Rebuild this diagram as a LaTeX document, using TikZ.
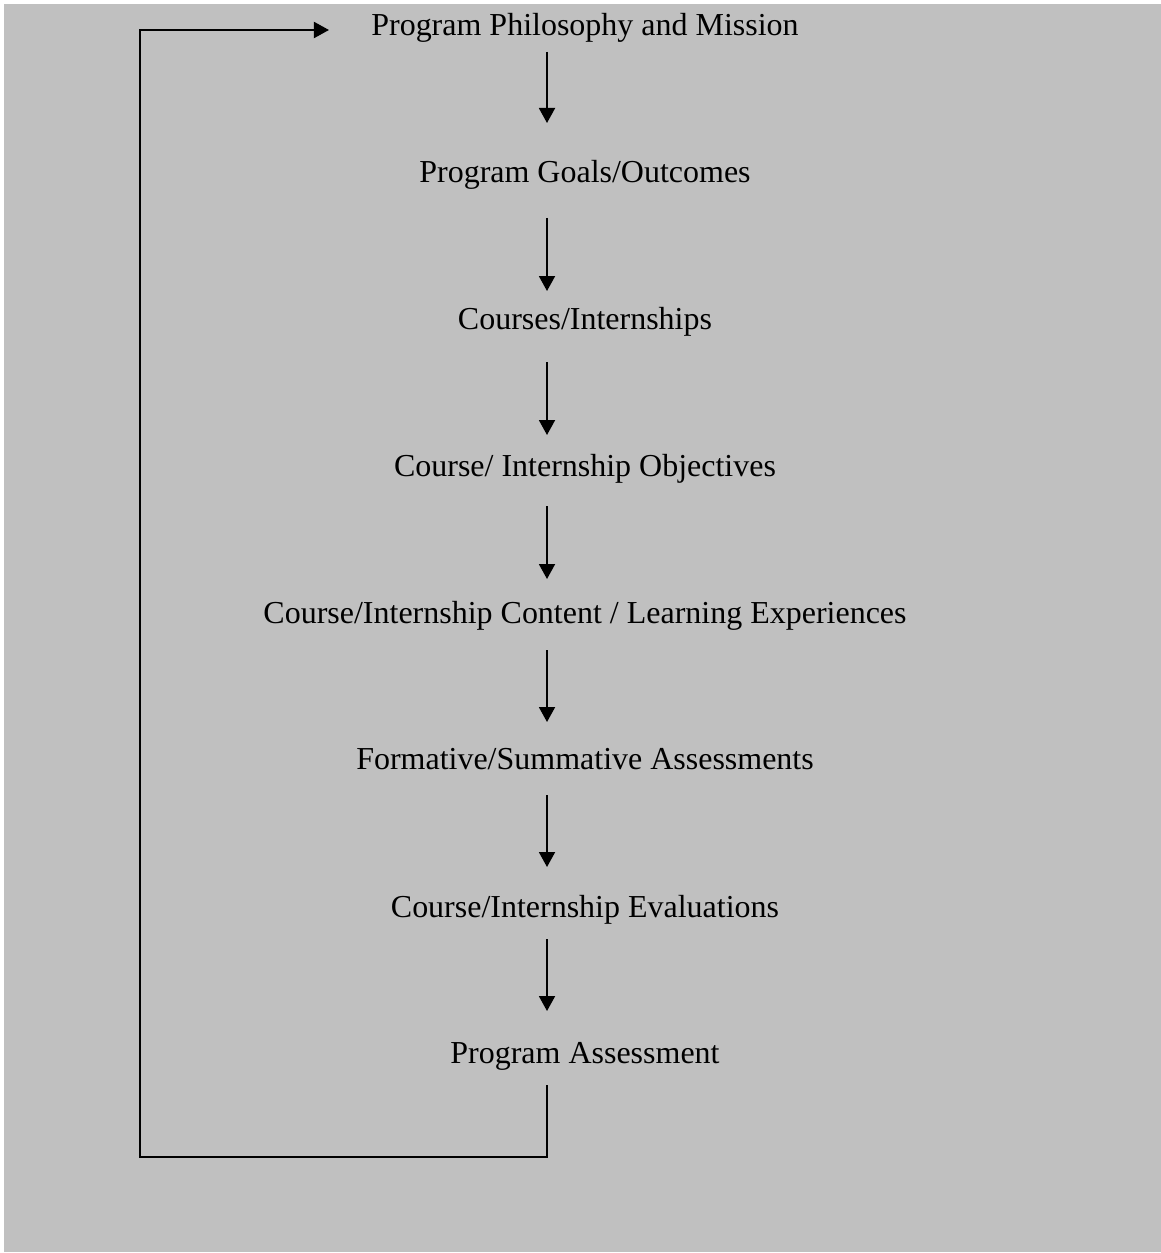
\documentclass[tikz,border=0pt]{standalone}
\usepackage{fontspec}
\setmainfont{Liberation Serif}
\usepackage{tikz}
\usetikzlibrary{arrows.meta, positioning}

\definecolor{panelgray}{HTML}{C0C0C0}

\begin{document}
\begin{tikzpicture}[
    node distance=2.94cm,
    stage/.style={inner sep=0pt, text depth=0pt, font=\fontsize{18.2pt}{22pt}\selectfont},
    arrow/.style={-{Triangle[length=0.3cm, width=0.32cm]}, line width=1.1pt}
]

% Background
\useasboundingbox (0,0) rectangle (23.22,-25.06);
\fill[white] (0,0) rectangle (23.22,-25.06);
\fill[panelgray] (0.08,-0.08) rectangle (23.22,-25.04);

% Nodes
\node[stage] (mission) at (11.70,-0.48) {Program Philosophy and Mission};
\node[stage, below of=mission] (goals) {Program Goals/Outcomes};
\node[stage, below of=goals] (courses) {Courses/Internships};
\node[stage, below of=courses] (objectives) {Course/ Internship Objectives};
\node[stage, below of=objectives] (content) {Course/Internship Content / Learning Experiences};
\node[stage, below of=content] (assess) {Formative/Summative Assessments};
\node[stage, below of=assess] (evals) {Course/Internship Evaluations};
\node[stage, below of=evals] (program) {Program Assessment};

\coordinate (loop) at (2.80,-23.14);

% Arrows
\draw[arrow] ([xshift=-0.76cm,yshift=-0.56cm]mission.center) -- ([xshift=-0.76cm,yshift=0.96cm]goals.center);
\draw[arrow] ([xshift=-0.76cm,yshift=-0.94cm]goals.center) -- ([xshift=-0.76cm,yshift=0.54cm]courses.center);
\draw[arrow] ([xshift=-0.76cm,yshift=-0.88cm]courses.center) -- ([xshift=-0.76cm,yshift=0.60cm]objectives.center);
\draw[arrow] ([xshift=-0.76cm,yshift=-0.82cm]objectives.center) -- ([xshift=-0.76cm,yshift=0.66cm]content.center);
\draw[arrow] ([xshift=-0.76cm,yshift=-0.76cm]content.center) -- ([xshift=-0.76cm,yshift=0.74cm]assess.center);
\draw[arrow] ([xshift=-0.76cm,yshift=-0.72cm]assess.center) -- ([xshift=-0.76cm,yshift=0.78cm]evals.center);
\draw[arrow] ([xshift=-0.76cm,yshift=-0.66cm]evals.center) -- ([xshift=-0.76cm,yshift=0.84cm]program.center);

% Feedback loop
\draw[arrow] ([xshift=-0.76cm,yshift=-0.64cm]program.center) |- (loop) |- ([xshift=-0.84cm,yshift=-0.12cm]mission.west);

\end{tikzpicture}
\end{document}
